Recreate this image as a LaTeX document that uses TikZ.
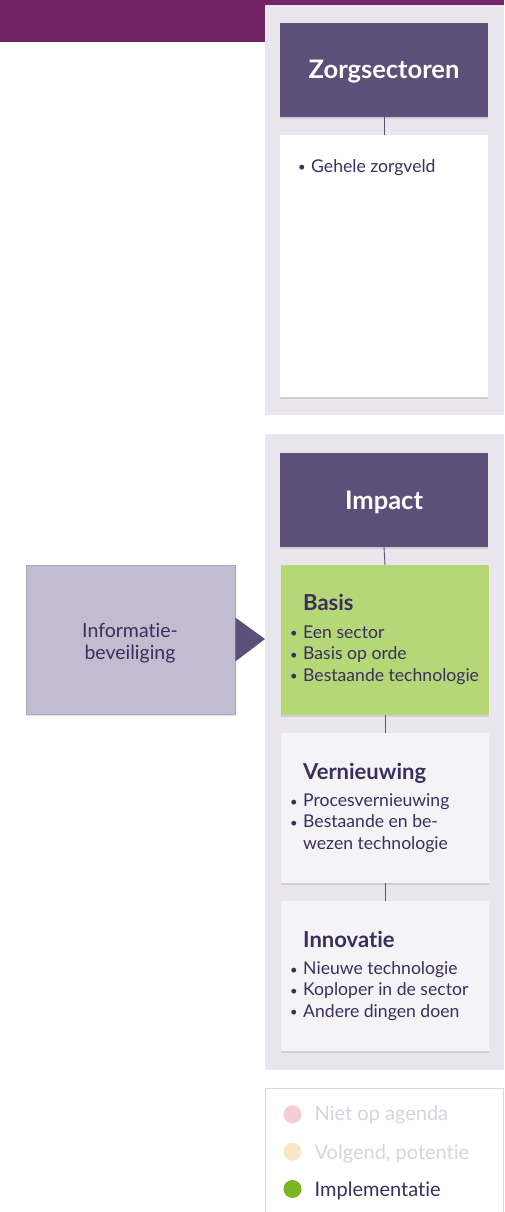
\documentclass[tikz,border=0pt]{standalone}
\usepackage{fontspec}
\setmainfont{Lato}[Ligatures={TeX,NoCommon}]
\usetikzlibrary{calc,shadows}
\definecolor{topband}{HTML}{722465}
\definecolor{hdr}{HTML}{5C5079}
\definecolor{panel}{HTML}{E9E6EE}
\definecolor{greenbox}{HTML}{B5D776}
\definecolor{lightbox}{HTML}{F4F3F6}
\definecolor{infobox}{HTML}{C2BCD0}
\definecolor{infoborder}{HTML}{ADA5C0}
\definecolor{txt}{HTML}{3A2E5F}
\definecolor{faded}{HTML}{D7D4E0}
\definecolor{lgred}{HTML}{F5CDD3}
\definecolor{lgpeach}{HTML}{FAE6C9}
\definecolor{lggreen}{HTML}{7BB524}
\definecolor{lgborder}{HTML}{D9D6E2}
\tikzset{
  boxshadow/.style={drop shadow={shadow xshift=0pt,shadow yshift=-2pt,opacity=0.10,fill=black}},
  hdrbox/.style={fill=hdr,minimum width=208pt,minimum height=94pt,inner sep=0pt,boxshadow},
  hdrtxt/.style={anchor=base,inner sep=0pt,text=white,font=\fontsize{25.5}{30}\selectfont\bfseries},
  cbox/.style={minimum width=208pt,inner sep=0pt,boxshadow},
  ttl/.style={anchor=base west,inner sep=0pt,text=txt,font=\fontsize{22}{26}\selectfont\bfseries},
  lst/.style={anchor=base west,inner sep=0pt,text=txt,font=\fontsize{17.6}{21.3}\selectfont},
  conn/.style={draw=hdr,line width=0.9pt},
  lgtxt/.style={anchor=base west,inner sep=0pt,font=\fontsize{20}{24}\selectfont},
}
\newcommand{\bul}{\llap{\raisebox{0.5pt}{\fontsize{13}{13}\selectfont\textbullet}\hspace{5.5pt}}}
\begin{document}
\begin{tikzpicture}[x=1pt,y=-1pt]
\useasboundingbox (0,0) rectangle (504,1212);
% top band
\fill[topband] (0,0) rectangle (504,5);
\fill[topband] (0,0) rectangle (265,42);
% panels
\fill[panel] (265,5) rectangle (504,415);
\fill[panel] (265,434) rectangle (504,1070);
% top column
\node[hdrbox] (zh) at (384,70) {};
\node[hdrtxt] (zht) at (384,78.3) {Zorgsectoren};
\node[cbox,fill=white,minimum height=262pt] (zb) at (384,266) {};
\draw[conn] (zh.south) -- (zb.north);
\node[lst] (zl) at (311,172) {\bul Gehele zorgveld};
% impact column
\node[hdrbox] (ih) at (384,500) {};
\node[hdrtxt] (iht) at (384,509.3) {Impact};
\node[cbox,fill=greenbox,minimum height=150pt] (bb) at (385,640) {};
\node[cbox,fill=lightbox,minimum height=150pt] (vb) at (385,808) {};
\node[cbox,fill=lightbox,minimum height=150pt] (nb) at (385,976) {};
\draw[conn] (ih.south) -- (bb.north);
\draw[conn] (bb.south) -- (vb.north);
\draw[conn] (vb.south) -- (nb.north);
\node[ttl] (bt) at (303,610.7) {Basis};
\node[lst] (b1) at (303,638.3) {\bul Een sector};
\node[lst] (b2) at (303,659.6) {\bul Basis op orde};
\node[lst] (b3) at (303,681) {\bul Bestaande technologie};
\node[ttl] (vt) at (303,779.5) {Vernieuwing};
\node[lst] (v1) at (303,806.5) {\bul Procesvernieuwing};
\node[lst] (v2) at (303,827.8) {\bul Bestaande en be-};
\node[lst] (v3) at (303,849.1) {wezen technologie};
\node[ttl] (nt) at (303,947.5) {Innovatie};
\node[lst] (n1) at (303,974.5) {\bul Nieuwe technologie};
\node[lst] (n2) at (303,995.8) {\bul Koploper in de sector};
\node[lst] (n3) at (303,1017.1) {\bul Andere dingen doen};
% informatiebeveiliging
\node[fill=infobox,draw=infoborder,line width=0.6pt,minimum width=209pt,minimum height=149pt,inner sep=0pt,boxshadow] (ib) at (130.5,639.5) {};
\node[lst,anchor=base,font=\fontsize{19.5}{23}\selectfont] (it1) at (130,637.3) {Informatie-};
\node[lst,anchor=base,font=\fontsize{19.5}{23}\selectfont] (it2) at (130,659.3) {beveiliging};
\coordinate (tip) at (265,639);
\fill[hdr] ($(ib.east)+(0,-22)$) -- (tip) -- ($(ib.east)+(0,22)$) -- cycle;
% legend
\node[draw=lgborder,line width=0.8pt,fill=white,minimum width=238pt,minimum height=126pt,inner sep=0pt] (lg) at (384,1151) {};
\fill[lgred] (292.5,1114.3) circle (9);
\fill[lgpeach] (292.5,1151.7) circle (9);
\fill[lggreen] (292.5,1189) circle (9);
\node[lgtxt,text=faded] (l1) at (314.5,1120.7) {Niet op agenda};
\node[lgtxt,text=faded] (l2) at (314.5,1159) {Volgend, potentie};
\node[lgtxt,text=txt] (l3) at (314.5,1196.7) {Implementatie};
\end{tikzpicture}
\end{document}
